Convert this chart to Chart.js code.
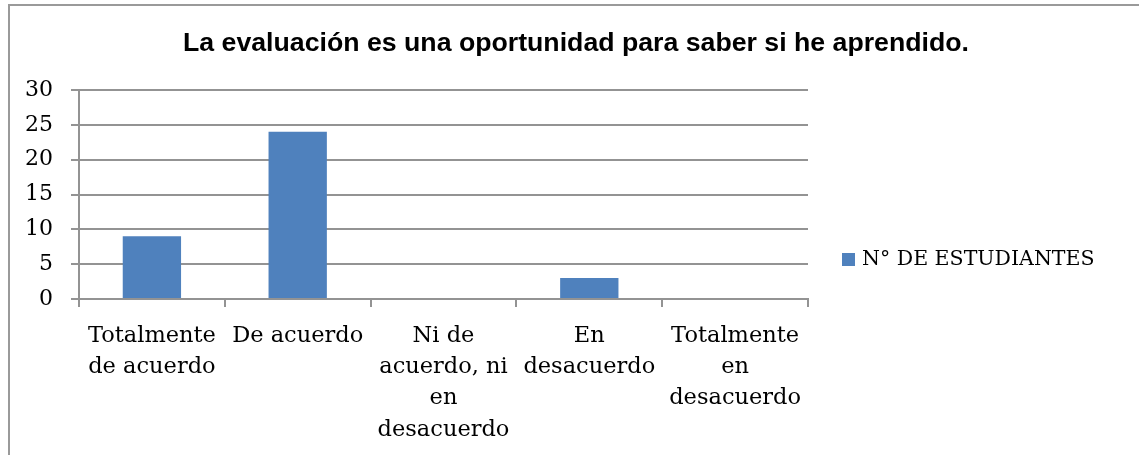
<!DOCTYPE html>
<html>
<head>
<meta charset="utf-8">
<script src="https://cdn.jsdelivr.net/npm/chart.js@4"></script>
<style>
  html, body { margin: 0; padding: 0; background: #fff; }
  #wrap { position: relative; width: 1139px; height: 455px; overflow: hidden; }
  #frame { position: absolute; left: 8px; top: 4px; width: 1200px; height: 500px;
           border: 2px solid #9a9a9a; box-sizing: border-box; }
  canvas { position: absolute; left: 0; top: 0; }
</style>
</head>
<body>
<div id="wrap">
  <div id="frame"></div>
  <canvas id="chart" width="1139" height="455"></canvas>
</div>
<script>
// datos
const titulo = "La evaluación es una oportunidad para saber si he aprendido.";
const serieNombre = "N° DE ESTUDIANTES";
const categorias = [
    ["Totalmente", "de acuerdo"],
    ["De acuerdo"],
    ["Ni de", "acuerdo, ni", "en", "desacuerdo"],
    ["En", "desacuerdo"],
    ["Totalmente", "en", "desacuerdo"]
];
const estudiantes = [9, 24, 0, 3, 0];
const yMin = 0;
const yMax = 30;
const yPaso = 5;

const azul = "#4F81BD";
const gris = "#939393";
const serif = "'DejaVu Serif', serif";

// titulo y leyenda a mano, para poder ponerlos donde van
const extras = {
    id: "extras",
    afterDraw(chart) {
        const ctx = chart.ctx;
        ctx.save();
        ctx.fillStyle = "#000";
        ctx.font = "bold 26.7px 'Liberation Sans', Arial, sans-serif";
        ctx.textAlign = "center";
        ctx.textBaseline = "middle";
        ctx.fillText(titulo, 576, 44);

        const ds = chart.data.datasets[0];
        ctx.fillStyle = ds.backgroundColor;
        ctx.fillRect(842, 253, 13, 13);
        ctx.fillStyle = "#000";
        ctx.font = "20.5px " + serif;
        ctx.textAlign = "left";
        ctx.fillText(ds.label, 862, 260);
        ctx.restore();
    }
};

new Chart(document.getElementById("chart"), {
    type: "bar",
    data: {
        labels: categorias,
        datasets: [{
            label: serieNombre,
            data: estudiantes,
            backgroundColor: azul,
            borderWidth: 0,
            categoryPercentage: 1,
            barPercentage: 0.4
        }]
    },
    options: {
        responsive: false,
        animation: false,
        layout: { padding: { top: 90, right: 331, bottom: 0, left: 0 } },
        plugins: {
            legend: { display: false },
            title: { display: false },
            tooltip: { enabled: false }
        },
        scales: {
            x: {
                afterFit: (s) => { s.height = 156; },
                grid: { offset: true, drawOnChartArea: false, color: gris, lineWidth: 2, tickLength: 8 },
                border: { color: gris, width: 2 },
                ticks: {
                    color: "#000",
                    padding: 14,
                    maxRotation: 0,
                    autoSkip: false,
                    font: { family: serif, size: 22.5, lineHeight: 1.38 }
                }
            },
            y: {
                min: yMin,
                max: yMax,
                afterFit: (s) => { s.width = 79; },
                grid: { color: gris, lineWidth: 2, tickLength: 8 },
                border: { color: gris, width: 2 },
                ticks: {
                    stepSize: yPaso,
                    color: "#000",
                    padding: 18,
                    font: { family: serif, size: 22 }
                }
            }
        }
    },
    plugins: [extras]
});
</script>
</body>
</html>
